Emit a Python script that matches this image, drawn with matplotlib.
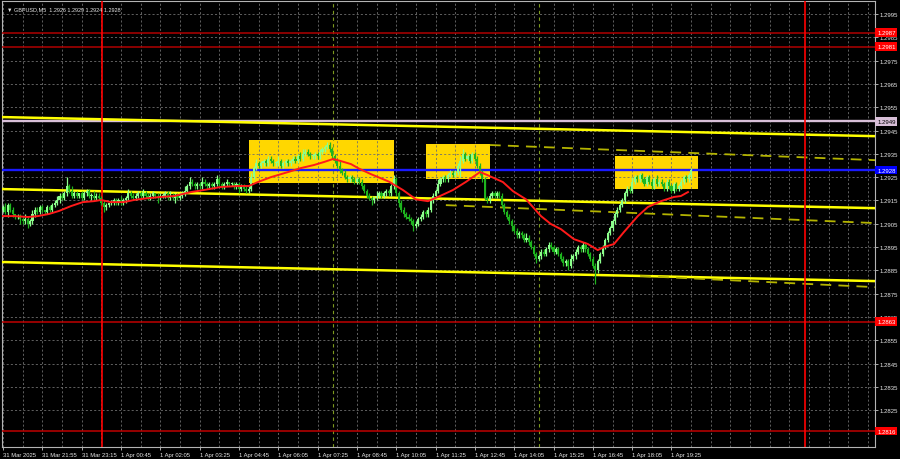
import matplotlib
matplotlib.use("Agg")
import matplotlib.pyplot as plt
import matplotlib.transforms as mtransforms
import numpy as np

plt.rcParams["font.family"] = ["Liberation Sans", "DejaVu Sans"]

# prices are stored as pips above 1.2900
BASE = 1.2900
PIP = 0.0001

# M5 closes, one per bar
closes = [
    12, 10, 13, 11, 9, 8, 8, 7, 6, 7,
    5, 6, 9, 11, 10, 12, 11, 10, 12, 11,
    13, 14, 15, 17, 16, 18, 21, 19, 17, 18,
    17, 18, 16, 18, 19, 17, 17, 16, 17, 16,
    14, 12, 13, 14, 14, 15, 14, 15, 14, 15,
    16, 18, 17, 16, 17, 18, 17, 18, 17, 16,
    17, 18, 17, 16, 17, 17, 18, 16, 17, 16,
    17, 16, 17, 18, 19, 21, 23, 22, 21, 22,
    21, 23, 22, 21, 22, 21, 22, 24, 22, 21,
    22, 23, 22, 22, 21, 22, 20, 21, 20, 19,
    20, 25, 29, 31, 30, 31, 32, 31, 33, 32,
    31, 31, 32, 30, 31, 32, 31, 32, 33, 32,
    34, 33, 35, 36, 35, 34, 34, 35, 34, 36,
    37, 38, 39, 37, 34, 32, 30, 28, 27, 25,
    24, 25, 24, 23, 24, 23, 21, 19, 17, 16,
    15, 16, 17, 18, 17, 18, 19, 18, 21, 24,
    18, 14, 11, 9, 8, 7, 6, 4, 5, 7,
    8, 10, 9, 11, 15, 17, 19, 22, 24, 25,
    24, 26, 27, 26, 27, 30, 32, 35, 33, 34,
    32, 35, 33, 30, 27, 24, 16, 15, 17, 18,
    17, 18, 17, 13, 10, 8, 6, 4, 2, 0,
    1, 0, -2, -1, -3, -5, -8, -10, -9, -7,
    -8, -6, -4, -5, -7, -6, -8, -10, -12, -11,
    -13, -10, -9, -7, -5, -6, -4, -6, -8, -10,
    -13, -15, -11, -8, -5, -2, 1, 3, 6, 9,
    11, 13, 15, 18, 20, 19, 23, 25, 24, 26,
    24, 22, 25, 23, 21, 24, 22, 23, 22, 20,
    23, 21, 19, 22, 20, 21, 23, 25, 24, 26,
    28,
]
first_open = 11

# wick lengths (pips beyond the body)
wick_hi = [
    1, 2, 1, 1, 1, 0, 1, 1, 1, 2, 1, 1, 2, 1, 1, 1, 1, 0, 1, 1,
    1, 1, 2, 1, 1, 1, 4, 1, 2, 1, 1, 0, 1, 1, 1, 1, 1, 2, 1, 1,
    1, 1, 1, 0, 1, 1, 1, 1, 2, 1, 1, 2, 1, 1, 1, 1, 1, 2, 1, 1,
    1, 1, 0, 1, 1, 1, 1, 1, 2, 1, 1, 1, 1, 1, 2, 1, 2, 1, 1, 1,
    1, 2, 1, 1, 1, 1, 1, 2, 1, 1, 1, 1, 0, 1, 1, 1, 1, 1, 1, 1,
    1, 2, 1, 2, 1, 1, 1, 1, 1, 1, 1, 1, 2, 1, 1, 1, 1, 1, 1, 1,
    1, 2, 2, 1, 1, 1, 1, 1, 1, 1, 1, 1, 1, 1, 1, 1, 1, 2, 1, 1,
    1, 1, 1, 1, 1, 1, 1, 1, 1, 1, 1, 1, 2, 1, 1, 1, 1, 1, 1, 2,
    1, 1, 1, 1, 1, 1, 1, 1, 1, 1, 1, 1, 1, 1, 1, 1, 1, 2, 1, 1,
    1, 1, 1, 1, 1, 1, 2, 2, 1, 1, 1, 1, 1, 1, 1, 1, 1, 1, 1, 1,
    1, 1, 1, 1, 1, 1, 1, 1, 1, 1, 1, 1, 1, 2, 1, 1, 1, 1, 1, 1,
    1, 1, 1, 1, 1, 1, 1, 1, 1, 1, 1, 2, 1, 1, 1, 1, 1, 1, 1, 1,
    1, 1, 1, 1, 1, 1, 1, 1, 1, 1, 1, 1, 1, 1, 1, 1, 2, 1, 1, 1,
    1, 1, 1, 1, 1, 1, 2, 1, 1, 1, 1, 1, 1, 1, 1, 1, 1, 1, 1, 1,
    1,
]
wick_lo = [
    1, 1, 2, 1, 1, 1, 1, 2, 1, 1, 2, 1, 1, 1, 1, 1, 1, 1, 1, 1,
    1, 1, 1, 1, 1, 1, 1, 1, 1, 1, 1, 1, 1, 1, 1, 1, 2, 1, 1, 1,
    1, 2, 1, 1, 1, 1, 1, 1, 1, 1, 1, 1, 1, 1, 1, 1, 1, 1, 1, 1,
    1, 1, 1, 2, 1, 1, 1, 1, 1, 1, 2, 1, 1, 1, 1, 1, 1, 1, 1, 1,
    1, 1, 1, 1, 1, 1, 1, 1, 1, 1, 1, 1, 1, 1, 1, 1, 2, 1, 1, 1,
    1, 1, 1, 1, 1, 1, 1, 1, 1, 1, 1, 1, 1, 1, 1, 1, 1, 1, 1, 1,
    1, 1, 1, 1, 1, 1, 1, 1, 1, 1, 1, 1, 1, 1, 1, 1, 1, 1, 1, 1,
    1, 1, 1, 1, 1, 1, 1, 1, 1, 1, 2, 1, 1, 1, 1, 1, 1, 1, 1, 1,
    1, 2, 1, 1, 1, 1, 1, 2, 1, 1, 1, 1, 1, 1, 1, 1, 1, 1, 1, 1,
    1, 1, 1, 1, 1, 1, 5, 1, 1, 1, 1, 1, 1, 1, 1, 1, 1, 1, 1, 1,
    1, 1, 1, 1, 1, 1, 1, 2, 1, 1, 1, 1, 1, 1, 1, 1, 1, 2, 1, 1,
    1, 1, 1, 1, 1, 1, 1, 1, 1, 1, 2, 1, 1, 1, 1, 1, 1, 1, 1, 1,
    1, 6, 1, 1, 1, 1, 1, 1, 1, 1, 1, 1, 1, 1, 1, 1, 1, 1, 1, 1,
    1, 1, 1, 1, 1, 1, 1, 1, 1, 1, 1, 1, 1, 1, 1, 1, 1, 1, 1, 1,
    2,
]

# red moving average, sampled along the curve: (bar, pips)
ma_bars = [0, 4.5, 10.2, 14.2, 18.7, 22.8, 27.7, 32.5, 37, 39.9, 43.9, 49.2,
           53.3, 59, 64.3, 69.6, 76.5, 81.8, 88.7, 95.6, 100, 103.7, 109, 116,
           121.2, 126.5, 130.6, 134.3, 137.5, 141.6, 144.8, 149.7, 157, 162.7,
           168, 172.9, 177.4, 183.1, 188.4, 194.1, 197.3, 203.4, 207.5, 212.8,
           218.9, 222.9, 227, 232.3, 238, 242, 244.5, 248.6, 252.6, 258.3,
           262.4, 267.7, 273, 275.8, 278.7]
ma_vals = [8.3, 8.3, 7.9, 8.3, 9.2, 10.5, 12.6, 14.3, 14.7, 15.2, 14.3, 14.3,
           15.2, 16.0, 16.5, 16.9, 18.6, 19.5, 20.8, 21.2, 21.2, 22.9, 25.0, 27.2,
           28.9, 30.2, 31.5, 32.8, 31.9, 30.6, 28.7, 26.3, 23.1, 19.5,
           15.5, 14.7, 16.7, 19.5, 23.0, 27.2, 25.8, 22.9, 19.0, 15.5,
           8.3, 4.9, 2.7, -1.6, -3.7, -6.3, -5.0, -3.7, 1.4, 8.3,
           12.2, 14.7, 16.5, 16.9, 18.6]

# yellow zones: (bar_start, bar_end, pips_low, pips_high)
zones = [(100.1, 159.1, 22.5, 40.9), (172.1, 198.1, 24.2, 39.2), (249.0, 282.8, 20.1, 34.1)]

# trend channel lines: ((bar, pips), (bar, pips))
channel_solid = [((-0.8, 50.8), (354.8, 42.6)),
                 ((-0.8, 19.9), (354.8, 11.7)),
                 ((-0.8, -11.4), (354.8, -19.6))]
channel_dashed = [((198.1, 38.8), (354.8, 32.3)),
                  ((180.2, 13.0), (354.8, 5.3)),
                  ((259.2, -17.4), (354.8, -22.2))]

# horizontal levels: price, line colour, box colour, box text colour
levels = [(1.2987, "#b00000", "#ff0000", "white"), (1.2981, "#b00000", "#ff0000", "white"),
          (1.2949, "#d8bfd8", "#d8bfd8", "black"), (1.2928, "#1a1aff", "#0000ff", "white"),
          (1.2863, "#c00000", "#ff0000", "white"), (1.2816, "#c00000", "#ff0000", "white")]
red_vlines = [40.3, 326.3]
day_vlines = [134.3, 218.1]

time_labels = ["31 Mar 2025", "31 Mar 21:55", "31 Mar 23:15", "1 Apr 00:45", "1 Apr 02:05",
               "1 Apr 03:25", "1 Apr 04:45", "1 Apr 06:05", "1 Apr 07:25", "1 Apr 08:45",
               "1 Apr 10:05", "1 Apr 11:25", "1 Apr 12:45", "1 Apr 14:05", "1 Apr 15:25",
               "1 Apr 16:45", "1 Apr 18:05", "1 Apr 19:25"]
price_ticks = [1.2825 + 0.001 * k for k in range(18)]

FS = 4.3


def px(p):
    return BASE + np.asarray(p, dtype=float) * PIP


fig = plt.figure(figsize=(9, 4.6), dpi=100, facecolor="black")
ax = fig.add_axes([2 / 900, 12 / 460, 873 / 900, 446 / 460], facecolor="black")

n = len(closes)
idx = np.arange(n)
c = np.array(closes, dtype=float)
o = np.concatenate([[first_open], c[:-1]])
hi = np.maximum(o, c) + np.array(wick_hi)
lo = np.minimum(o, c) - np.array(wick_lo)

# zones behind everything
for b0, b1, p0, p1 in zones:
    ax.add_patch(plt.Rectangle((b0, px(p0)), b1 - b0, (p1 - p0) * PIP,
                               facecolor="#ffd700", edgecolor="none", zorder=1))

# grid
ax.set_xticks(np.arange(0, 356, 8), minor=True)
ax.grid(True, which="both", color="#6e6e6e", linestyle=(0, (2.5, 2.5)), linewidth=0.6, zorder=0.5)

for lvl, col, _, _ in levels:
    lw = 1.7 if col in ("#1a1aff", "#d8bfd8") else 1.1
    ax.axhline(lvl, color=col, linewidth=lw, zorder=3)

for (b0, p0), (b1, p1) in channel_solid:
    ax.plot([b0, b1], px([p0, p1]), color="#ffff00", linewidth=1.8, zorder=3)
for (b0, p0), (b1, p1) in channel_dashed:
    ax.plot([b0, b1], px([p0, p1]), color="#b4b400", linewidth=1.3,
            linestyle=(0, (6, 4)), zorder=3)

for b in red_vlines:
    ax.axvline(b, color="#ff0000", linewidth=1.2, zorder=3)
for b in day_vlines:
    ax.axvline(b, color="#7d9a1e", linewidth=0.8, linestyle=(0, (3, 3)), zorder=2.5)

# candles
up = c >= o
colors = np.where(up, "#8cff8c", "#1eb41e")
ax.vlines(idx, px(lo), px(hi), colors=colors, linewidth=0.9, zorder=4)
body = np.maximum(np.abs(c - o), 0.4) * PIP
ax.bar(idx, body, bottom=px(np.minimum(o, c)), width=0.85, color=colors,
       linewidth=0, zorder=4.5)

ax.plot(ma_bars, px(ma_vals), color="#ff1a1a", linewidth=1.4, zorder=5)

ax.set_xlim(-0.4, 354.8)
ax.set_ylim(px(-90.8), px(100.6))

ax.yaxis.tick_right()
ax.set_yticks(price_ticks)
ax.set_yticklabels([f"{t:.4f}" for t in price_ticks])
ax.set_xticks(np.arange(0, 16 * len(time_labels), 16))
ax.set_xticklabels(time_labels, ha="left", fontsize=4.2)
ax.tick_params(axis="both", which="major", colors="#c8c8c8",
               length=2, width=0.6, pad=1.5)
ax.tick_params(axis="y", labelsize=FS)
ax.tick_params(axis="x", which="minor", length=0)
for lab in ax.get_xticklabels() + ax.get_yticklabels():
    lab.set_color("#e6e6e6")

for sp in ax.spines.values():
    sp.set_color("#b4b4b4")
    sp.set_linewidth(0.8)

# price boxes on the right axis
trans = mtransforms.blended_transform_factory(ax.transAxes, ax.transData)
for lvl, _, box, txtc in levels:
    ax.text(1.0025, lvl, f"{lvl:.4f}", transform=trans, fontsize=FS, color=txtc,
            va="center", ha="left", zorder=10, clip_on=False,
            bbox=dict(boxstyle="square,pad=0.3", facecolor=box, edgecolor="none"))

ax.text(0.0055, 0.989, "\u25bc GBPUSD,M5  1.2926 1.2929 1.2924 1.2928", transform=ax.transAxes,
        fontsize=4.0, color="#e6e6e6", va="top", ha="left", zorder=10)

fig.savefig("out.png", dpi=100, facecolor="black")
